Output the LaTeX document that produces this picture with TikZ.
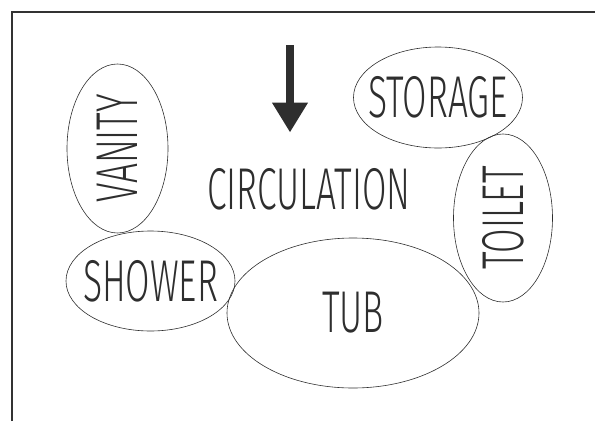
\documentclass[tikz,border=0pt]{standalone}
\usepackage{fontspec}
\newfontfamily\sketchfont{Fira Sans}[UprightFont=* Light, FakeStretch=0.6]
\usetikzlibrary{arrows.meta,shapes.geometric}
\definecolor{pencil}{HTML}{2E2E2E}
\definecolor{frame}{HTML}{333333}

\begin{document}
\begin{tikzpicture}[x=1pt, y=-1pt,
  room/.style={ellipse, draw=pencil, line width=0.6pt, inner sep=0pt},
  roomname/.style={font=\sketchfont\fontsize{59}{59}\selectfont, text=pencil, inner sep=0pt},
  entry/.style={-{Triangle[width=34pt, length=30pt]}, line width=8pt, color=pencil},
]
\useasboundingbox (0,0) rectangle (595,421);

% sheet border (top and left edges only)
\draw[frame, line width=1.8pt] (12,421) -- (12,12) -- (595,12);

% entry arrow
\coordinate (door) at (290,45);
\coordinate (door-in) at (290,132.5);
\draw[entry] (door) -- (door-in);

% bubbles
\node[room, minimum width=101pt, minimum height=169pt] (vanity) at (117.5,148.5) {};
\node[room, minimum width=169pt, minimum height=101pt] (storage) at (438,97.5) {};
\node[room, minimum width=99pt, minimum height=168pt] (toilet) at (503,218) {};
\node[room, minimum width=169pt, minimum height=100pt] (shower) at (150.5,281) {};
\node[room, minimum width=252pt, minimum height=150pt] (tub) at (353,313) {};

% names
\node[roomname, rotate=90] (vanity-txt) at (vanity) {VANITY};
\node[roomname] (storage-txt) at (storage) {STORAGE};
\node[roomname, rotate=90] (toilet-txt) at (toilet) {TOILET};
\node[roomname] (shower-txt) at (shower) {SHOWER};
\node[roomname] (tub-txt) at (tub) {TUB};
\node[roomname] (circ-txt) at (309,189) {CIRCULATION};

\end{tikzpicture}
\end{document}
